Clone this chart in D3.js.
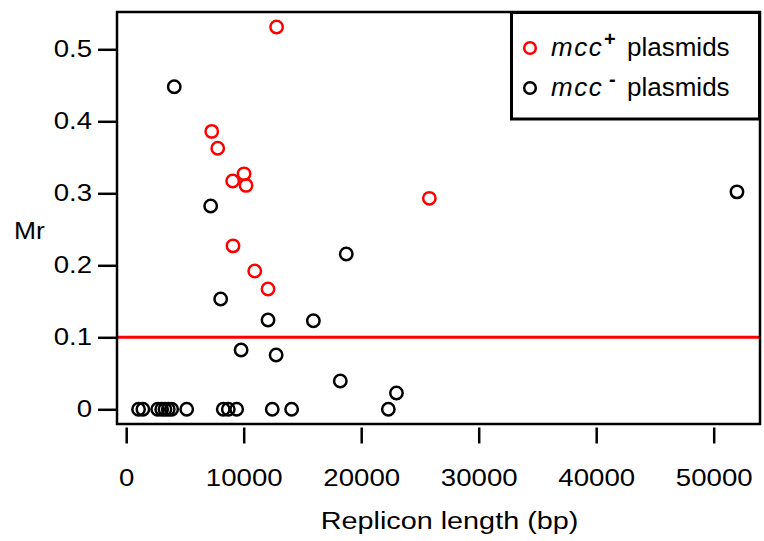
<!DOCTYPE html>
<html>
<head>
<meta charset="utf-8">
<script src="https://cdn.jsdelivr.net/npm/d3@7"></script>
<style>
  body { margin: 0; background: #fff; }
  text { font-family: "Liberation Sans", Arial, sans-serif; }
</style>
</head>
<body>
<script>
// replicon length (bp) and Mr for the two groups
const mccPlusLength = [12800, 7280, 7790, 10030, 9060, 10200, 25800, 9090, 10940, 12070];
const mccPlusMr = [0.531, 0.386, 0.3625, 0.327, 0.317, 0.311, 0.293, 0.227, 0.192, 0.167];

const mccMinusLength = [4090, 7190, 18730, 8040, 12070, 15930, 9780, 12760, 18220, 23000, 51980,
  1050, 1420, 2680, 3020, 3300, 3580, 3870, 5150, 8260, 8690, 9400, 12430, 14080, 22310];
const mccMinusMr = [0.448, 0.2824, 0.2157, 0.1532, 0.124, 0.123, 0.0824, 0.0754, 0.0393, 0.0226, 0.302,
  0, 0, 0, 0, 0, 0, 0, 0, 0, 0, 0, 0, 0, 0];

const xTicks = [0, 10000, 20000, 30000, 40000, 50000];
const yTicks = [0, 0.1, 0.2, 0.3, 0.4, 0.5];
const threshold = 0.1;

const width = 764, height = 541;
const plot = {left: 117, right: 760, top: 12, bottom: 424};
const red = "#ff0000";

const svg = d3.select("body").append("svg")
  .attr("width", width)
  .attr("height", height);

const x = d3.scaleLinear()
  .domain([(plot.left - 126.2) / 0.01175, (plot.right - 126.2) / 0.01175])
  .range([plot.left, plot.right]);

const y = d3.scaleLinear()
  .domain([(409.3 - plot.bottom) / 720, (409.3 - plot.top) / 720])
  .range([plot.bottom, plot.top]);

// threshold line
svg.append("line")
  .attr("x1", plot.left).attr("x2", plot.right)
  .attr("y1", y(threshold)).attr("y2", y(threshold))
  .attr("stroke", red)
  .attr("stroke-width", 3);

// points
const minus = mccMinusLength.map((d, i) => ({len: d, mr: mccMinusMr[i]}));
const plus = mccPlusLength.map((d, i) => ({len: d, mr: mccPlusMr[i]}));

svg.append("g").selectAll("circle")
  .data(minus)
  .enter()
  .append("circle")
  .attr("cx", d => x(d.len))
  .attr("cy", d => y(d.mr))
  .attr("r", 6.2)
  .attr("fill", "none")
  .attr("stroke", "#000")
  .attr("stroke-width", 2.5);

svg.append("g").selectAll("circle")
  .data(plus)
  .enter()
  .append("circle")
  .attr("cx", d => x(d.len))
  .attr("cy", d => y(d.mr))
  .attr("r", 6.2)
  .attr("fill", "none")
  .attr("stroke", red)
  .attr("stroke-width", 2.5);

// frame
svg.append("rect")
  .attr("x", plot.left).attr("y", plot.top)
  .attr("width", plot.right - plot.left)
  .attr("height", plot.bottom - plot.top)
  .attr("fill", "none")
  .attr("stroke", "#000")
  .attr("stroke-width", 2.5);

// y axis on the frame
const yAxis = d3.axisLeft(y)
  .tickValues(yTicks)
  .tickSize(19)
  .tickPadding(6)
  .tickFormat(d => d === 0 ? "0" : d3.format(".1f")(d));

const gy = svg.append("g")
  .attr("transform", "translate(" + plot.left + ",0)")
  .call(yAxis);
gy.select(".domain").remove();
gy.selectAll(".tick line").attr("stroke", "#000").attr("stroke-width", 2.5);
gy.selectAll(".tick text")
  .attr("font-size", 23)
  .attr("font-family", "Liberation Sans, Arial, sans-serif")
  .attr("fill", "#000")
  .attr("x", 0)
  .attr("transform", "translate(-25,0) scale(1.2,1)");

// detached x axis below the frame
const xAxis = d3.axisBottom(x)
  .tickValues(xTicks)
  .tickSize(16)
  .tickPadding(14)
  .tickFormat(d3.format("d"));

const gx = svg.append("g")
  .attr("transform", "translate(0," + (plot.bottom + 3.5) + ")")
  .call(xAxis);
gx.select(".domain").remove();
gx.selectAll(".tick line").attr("stroke", "#000").attr("stroke-width", 2.5);
gx.selectAll(".tick text")
  .attr("font-size", 23)
  .attr("font-family", "Liberation Sans, Arial, sans-serif")
  .attr("fill", "#000")
  .attr("y", 0)
  .attr("dy", "0.35em")
  .attr("transform", "translate(0,50) scale(1.2,1)");

// axis titles
svg.append("text")
  .attr("transform", "translate(" + ((plot.left + plot.right) / 2 + 11) + ",529) scale(1.2,1)")
  .attr("text-anchor", "middle")
  .attr("font-size", 24)
  .text("Replicon length (bp)");

svg.append("text")
  .attr("transform", "translate(14,239) scale(1.1,1)")
  .attr("font-size", 24)
  .text("Mr");

// legend
const legend = svg.append("g");
legend.append("rect")
  .attr("x", 511.5).attr("y", 12.5)
  .attr("width", 248).attr("height", 106.5)
  .attr("fill", "#fff")
  .attr("stroke", "#000")
  .attr("stroke-width", 3);

const legendItems = [
  {color: red, sign: "+", y: 48},
  {color: "#000", sign: "-", y: 88}
];

legendItems.forEach(item => {
  legend.append("circle")
    .attr("cx", 530).attr("cy", item.y)
    .attr("r", 5.8)
    .attr("fill", "none")
    .attr("stroke", item.color)
    .attr("stroke-width", 2.5);
  const t = legend.append("text")
    .attr("y", item.y + 8)
    .attr("font-family", "Open Sans, sans-serif")
    .attr("font-size", 26)
    .attr("fill", "#000");
  t.append("tspan").attr("x", 551).attr("font-style", "italic")
    .attr("letter-spacing", 1.5).text("mcc");
  t.append("tspan").attr("x", item.sign === "-" ? 609 : 604).attr("dy", -10)
    .attr("font-size", 20).attr("font-weight", "bold")
    .text(item.sign);
  t.append("tspan").attr("x", 627).attr("dy", 10).text("plasmids");
});
</script>
</body>
</html>
